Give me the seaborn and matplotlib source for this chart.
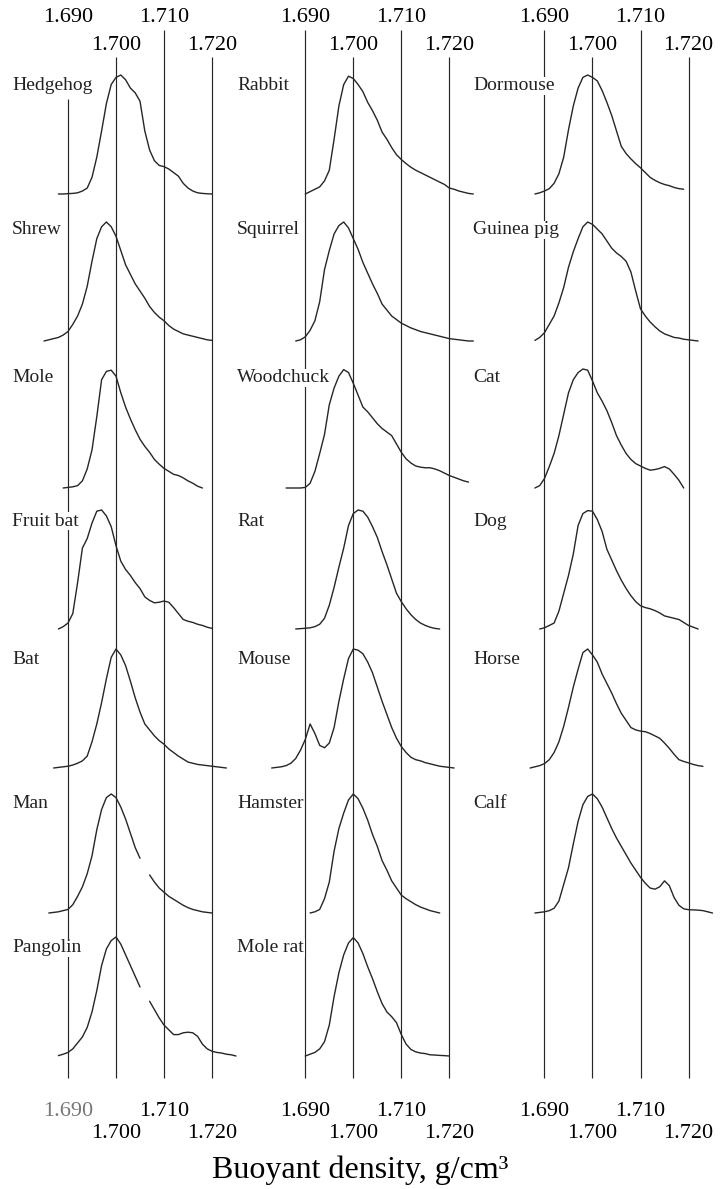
import numpy as np
import pandas as pd
import matplotlib
matplotlib.use("Agg")
import matplotlib.pyplot as plt
import seaborn as sns

nan = float("nan")

# ---------------- data ----------------
tick_values = [1.690, 1.700, 1.710, 1.720]
tick_labels = ["1.690", "1.700", "1.710", "1.720"]
axis_title = "Buoyant density, g/cm³"
density_step = 0.001

column1 = ["Hedgehog", "Shrew", "Mole", "Fruit bat", "Bat", "Man", "Pangolin"]
column2 = ["Rabbit", "Squirrel", "Woodchuck", "Rat", "Mouse", "Hamster", "Mole rat"]
column3 = ["Dormouse", "Guinea pig", "Cat", "Dog", "Horse", "Calf"]

# relative absorbance profiles, one value per 0.001 g/cm3 from the start density
hedgehog_start = 1.688
hedgehog = [0, 0, 0.3, 0.5, 1, 2.5, 5, 14, 31, 53, 76, 92, 98, 100, 96, 89, 85, 78, 53, 37,
            28, 24, 23, 21, 18, 15, 9, 5, 2.5, 1, 0.5, 0.2, 0]
shrew_start = 1.685
shrew = [0, 1, 2, 3, 5, 8, 14, 21, 31, 46, 67, 86, 96, 100, 96, 88, 76, 64, 56, 48,
         42, 36, 29, 24, 20, 17, 13, 10, 8, 6, 5, 4, 3, 2, 1, 0.5]
mole_start = 1.689
mole = [0, 0.5, 1, 2, 6, 16, 32, 60, 91, 98, 99, 94, 80, 68, 58, 49, 41, 35, 30, 24,
        20, 16.5, 14, 11.5, 10.5, 8.5, 6, 4, 1.5, 0]
fruit_bat_start = 1.688
fruit_bat = [0, 2, 5, 13, 39, 68, 76, 89, 99, 100, 95, 86, 70, 57, 50, 45, 39, 34, 27, 24,
             22, 22.5, 23.5, 22.5, 18, 13, 8, 6.5, 5.5, 4, 3, 1.5, 0.5]
bat_start = 1.687
bat = [0, 0.5, 1, 1.5, 2.5, 4, 6, 10, 22, 37, 55, 75, 93, 100, 95, 86, 73, 59, 47, 37,
       32, 27, 23, 20, 16, 13, 10, 7.5, 5, 4, 3, 2.5, 2, 1.5, 1, 0.5, 0]
man_start = 1.686
man = [0, 0.5, 1, 2, 3, 7, 14, 22, 33, 48, 70, 87, 97, 100, 97, 89, 79, 67, 55, 46,
       nan, 32, 26, 21, 17.5, 14, 11.5, 9, 6.5, 4.5, 3, 2, 1, 0.5, 0]
pangolin_start = 1.688
pangolin = [0.3, 1.5, 3, 6, 11, 16, 24, 37, 55, 76, 90, 97, 100, 94, 85, 76, 67, 58, nan, 46,
            39, 32, 26, 22, 18, 18, 19.5, 20, 19.5, 16.5, 10, 6, 4, 3, 2.5, 1.5, 1, 0]

rabbit_start = 1.690
rabbit = [0, 2, 4, 6, 11, 20, 46, 74, 92, 99, 97, 92, 86, 77, 70, 62, 52, 46, 39, 33,
          29, 25.5, 22.5, 20, 18, 16, 14, 12, 10, 8, 5, 4, 2.5, 1.5, 0.5, 0]
squirrel_start = 1.688
squirrel = [0, 1, 3.5, 9, 17, 33, 60, 76, 90, 97, 100, 95, 86, 77, 66, 57, 48, 40, 31, 26,
            21, 18, 15, 13, 11, 9.5, 8, 7, 6, 5, 4, 3, 2, 1.5, 1, 0.5, 0, 0]
woodchuck_start = 1.686
woodchuck = [0, 0, 0, 0, 0.5, 4, 14, 29, 45, 70, 84, 94, 99.5, 97, 88, 78, 68, 64, 59, 54,
             50, 47, 44, 37, 30, 24.5, 21, 18.5, 17.5, 17, 17, 16, 14.5, 12.5, 10.5, 9, 7.5, 6, 5]
rat_start = 1.688
rat = [0, 0.3, 0.6, 1, 2, 4, 9, 20, 35, 52, 68, 87, 97, 100, 99, 94, 86, 77, 65, 54,
       42, 30, 23, 17, 12, 8, 5, 3, 1.5, 0.5, 0]
mouse_start = 1.683
mouse = [0, 0.5, 1, 2, 4, 8, 15, 24, 37, 29, 19, 17, 21, 34, 56, 75, 92, 100, 99, 96,
         89, 80, 68, 56, 45, 34, 25, 18, 13, 9, 7, 6, 4.5, 3.5, 2.5, 1.5, 1, 0.5, 0]
hamster_start = 1.691
hamster = [0, 1, 3, 12, 26, 52, 71, 84, 95, 100, 96, 88, 78, 66, 56, 44, 36, 27, 21, 15,
           12, 9.5, 7, 5, 3.5, 2, 1, 0]
mole_rat_start = 1.690
mole_rat = [0, 1.5, 3, 6, 12, 26, 50, 70, 85, 95, 99.5, 95, 86, 75, 65, 54, 44, 37, 33, 28,
            18, 10, 5.5, 3.5, 2.5, 2, 1, 0.8, 0.5, 0.3, 0]

dormouse_start = 1.688
dormouse = [0, 1, 2.5, 4.5, 9, 17, 31, 54, 74, 89, 98, 100, 98, 95, 87, 77, 66, 53, 40, 34,
            29.5, 25.5, 22, 18, 14, 11.5, 9.5, 8, 7, 5.5, 4.5, 4]
guinea_pig_start = 1.688
guinea_pig = [0.5, 3, 7, 14, 21, 32, 45, 62, 75, 86, 96, 100, 98, 94, 90, 84, 78, 74, 71, 67,
              58, 42, 27, 21, 16, 12, 8.5, 6, 4.5, 3, 2.5, 1.5, 1, 0.5, 0]
cat_start = 1.688
cat = [0, 2, 8, 18, 29, 44, 62, 80, 91, 97, 100, 99, 90, 80, 73, 65, 55, 44, 36, 29,
       24, 20.5, 18.5, 16.5, 15, 15.5, 16.5, 18, 16, 11.5, 6.5, 0]
dog_start = 1.689
dog = [0, 1, 3, 5, 15, 30, 45, 63, 87, 97, 99.5, 99, 92, 82, 67, 58, 49, 41, 34, 28,
       23, 19.5, 18, 17, 15.5, 13.5, 11, 10, 9, 8, 5.5, 3, 1.5, 0]
horse_start = 1.687
horse = [0, 1, 2, 3.7, 7, 13, 22, 35, 51, 68, 83, 97, 100, 95, 89, 79, 71, 63, 54, 46,
         40, 34, 32, 31, 30.5, 29, 27, 25, 21, 16.5, 11.5, 7, 5.5, 4.3, 3, 2, 1.4]
calf_start = 1.688
calf = [0, 0.5, 1, 2, 4, 10, 24, 38, 58, 77, 91, 98, 100, 96, 89, 80, 71, 63, 56, 49,
        42, 36, 30, 25, 21, 20, 22, 27, 23, 13, 6.5, 3.5, 2.8, 2.6, 2.4, 2, 1, 0]

profiles = {
    "Hedgehog": (hedgehog_start, hedgehog), "Shrew": (shrew_start, shrew),
    "Mole": (mole_start, mole), "Fruit bat": (fruit_bat_start, fruit_bat),
    "Bat": (bat_start, bat), "Man": (man_start, man), "Pangolin": (pangolin_start, pangolin),
    "Rabbit": (rabbit_start, rabbit), "Squirrel": (squirrel_start, squirrel),
    "Woodchuck": (woodchuck_start, woodchuck), "Rat": (rat_start, rat),
    "Mouse": (mouse_start, mouse), "Hamster": (hamster_start, hamster),
    "Mole rat": (mole_rat_start, mole_rat),
    "Dormouse": (dormouse_start, dormouse), "Guinea pig": (guinea_pig_start, guinea_pig),
    "Cat": (cat_start, cat), "Dog": (dog_start, dog), "Horse": (horse_start, horse),
    "Calf": (calf_start, calf),
}

# ---------------- layout ----------------
W, H = 720, 1189
col_layout = [(0, 240, 68.0), (240, 480, 305.3), (480, 720, 544.5)]  # left px, right px, px of 1.690
px_per_density = 4800.0
row_base = [194, 341, 488, 629, 768, 913, 1056]
amp = 1.19
label_x = [12, 237, 473]
label_y = [86, 230, 378, 521, 660, 803, 948]
line_top = [30, 57]
line_bottom = 1078
top_label_y = [18, 45]
bottom_label_y = [1111, 1133]
ink = "#262626"

sns.set_theme(style="white")
plt.rcParams["font.family"] = ["Liberation Serif", "DejaVu Serif"]

rows = []
for name, (start, vals) in profiles.items():
    seg = 0
    for i, v in enumerate(vals):
        if np.isnan(v):
            seg += 1
            continue
        rows.append({"species": name, "density": round(start + i * density_step, 4),
                     "absorbance": v, "segment": seg})
df = pd.DataFrame(rows)

fig = plt.figure(figsize=(W / 100, H / 100), dpi=100)
fig.patch.set_facecolor("white")

for c, (names, (L, R, X0)) in enumerate(zip([column1, column2, column3], col_layout)):
    ax = fig.add_axes([L / W, 0, (R - L) / W, 1])
    for i, t in enumerate(tick_values):
        top = line_top[i % 2]
        if c == 0 and i == 0:
            top = 99
        ax.vlines(t, top, line_bottom, color=ink, lw=0.85, zorder=1)
        ax.text(t, top_label_y[i % 2], tick_labels[i], ha="center", va="center",
                fontsize=16, color="black")
        ax.text(t, bottom_label_y[i % 2], tick_labels[i], ha="center", va="center",
                fontsize=16, color="#777777" if (c == 0 and i == 0) else "black")
    for r, name in enumerate(names):
        sub = df[df["species"] == name].copy()
        sub["y"] = row_base[r] - amp * sub["absorbance"]
        sns.lineplot(data=sub, x="density", y="y", units="segment", estimator=None,
                     sort=False, color=ink, lw=1.0, ax=ax, legend=False, zorder=2)
        fig.text(label_x[c] / W, 1 - label_y[r] / H, name, ha="left", va="center",
                 fontsize=14, color="#222222",
                 bbox=dict(facecolor="white", edgecolor="none", pad=0.6))
    ax.set_xlim(1.690 + (L - X0) / px_per_density, 1.690 + (R - X0) / px_per_density)
    ax.set_ylim(H, 0)
    ax.axis("off")

fig.text(0.5, 1 - 1170 / H, axis_title, ha="center", va="center", fontsize=23, color="black")

fig.savefig("out.png", dpi=100, facecolor="white")
